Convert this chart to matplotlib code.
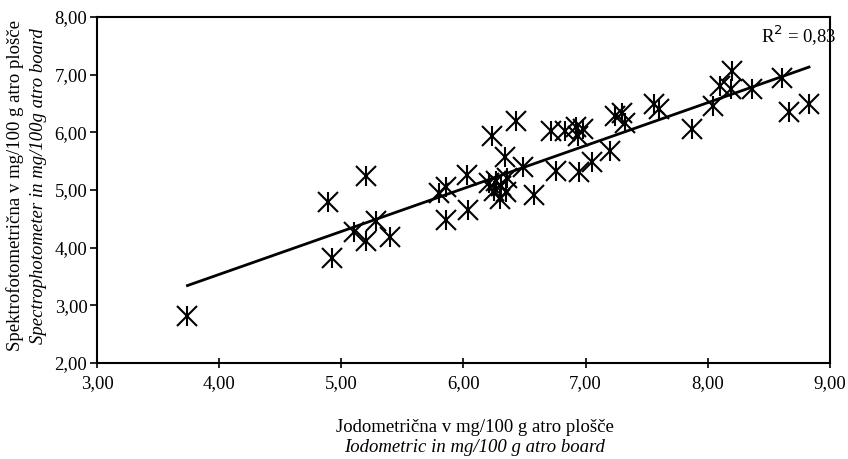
import numpy as np
import matplotlib.pyplot as plt

plt.rcParams['font.family'] = ['Liberation Serif', 'DejaVu Serif']

# jodometrična (x) vs spektrofotometrična (y), mg/100 g
jodometricna = [3.74, 4.89, 5.20, 4.92, 5.10, 5.20, 5.28, 5.40, 5.80, 5.86,
                5.86, 6.03, 6.04, 6.23, 6.43, 6.34, 6.21, 6.27, 6.31, 6.30,
                6.35, 6.25, 6.36, 6.49, 6.58, 6.72, 6.83, 6.92, 6.98, 6.94,
                6.76, 6.95, 7.05, 7.20, 7.24, 7.30, 7.32, 7.56, 7.60, 7.87,
                8.04, 8.10, 8.20, 8.19, 8.36, 8.61, 8.67, 8.83]
spektro = [2.82, 4.79, 5.24, 3.83, 4.27, 4.12, 4.46, 4.19, 4.95, 4.48,
           5.05, 5.26, 4.66, 5.94, 6.20, 5.57, 5.13, 5.16, 5.07, 4.84,
           4.96, 4.99, 5.20, 5.40, 4.91, 6.02, 6.02, 6.09, 6.06, 5.94,
           5.33, 5.31, 5.49, 5.67, 6.28, 6.34, 6.16, 6.49, 6.41, 6.05,
           6.46, 6.81, 7.07, 6.76, 6.76, 6.95, 6.35, 6.50]
r2_text = "R$^2$ = 0,83"

x = np.array(jodometricna)
y = np.array(spektro)
k, n = np.polyfit(x, y, 1)
xl = np.array([x.min(), x.max()])

fig = plt.figure(figsize=(8.48, 4.59), dpi=100)
ax = fig.add_axes([0.1145, 0.209, 0.864, 0.754])

# excel-like asterisk marker = x + |
ax.plot(x, y, linestyle='none', marker='x', markersize=15, markeredgewidth=1.5, color='black')
ax.plot(x, y, linestyle='none', marker='|', markersize=15, markeredgewidth=1.5, color='black')
ax.plot(xl, k * xl + n, color='black', linewidth=2)

ax.set_xlim(3, 9)
ax.set_ylim(2, 8)
ax.set_xticks(np.arange(3, 9.01, 1))
ax.set_yticks(np.arange(2, 8.01, 1))
ax.set_xticklabels([f"{v:.2f}".replace('.', ',') for v in ax.get_xticks()])
ax.set_yticklabels([f"{v:.2f}".replace('.', ',') for v in ax.get_yticks()])
ax.tick_params(axis='x', direction='inout', length=7, width=1.2, labelsize=13.5, pad=5)
ax.tick_params(axis='y', direction='out', length=5, width=1.2, labelsize=13.5, pad=2)
for s in ax.spines.values():
    s.set_linewidth(1.5)

ax.text(1.01, 0.945, r2_text, transform=ax.transAxes, ha='right', va='center', fontsize=13.5)

fig.text(0.56, 0.068, "Jodometrična v mg/100 g atro plošče", ha='center', va='center', fontsize=13.5)
fig.text(0.56, 0.026, "Iodometric in mg/100 g atro board", ha='center', va='center',
         fontsize=13.5, style='italic')
fig.text(0.018, 0.595, "Spektrofotometrična v mg/100 g atro plošče", ha='center', va='center',
         rotation=90, fontsize=13.5)
fig.text(0.045, 0.595, "Spectrophotometer in mg/100g atro board", ha='center', va='center',
         rotation=90, fontsize=13.5, style='italic')

fig.savefig('out.png', dpi=100)
